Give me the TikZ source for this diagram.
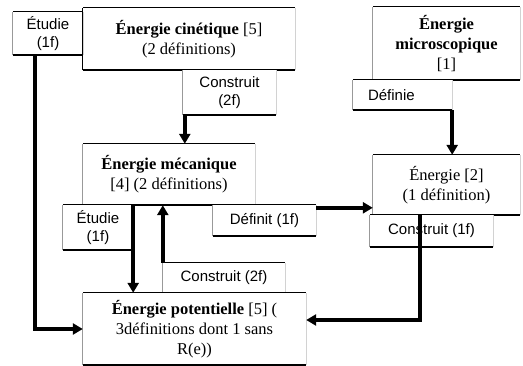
\documentclass[tikz,border=0pt]{standalone}
\usepackage{fontspec}
\setmainfont{Liberation Serif}
\newfontfamily\labelfont{Liberation Sans}
\usetikzlibrary{arrows.meta,calc}
\tikzset{
  card/.style={fill=white, inner sep=0pt, align=center, font=\fontsize{16.5}{20}\selectfont},
  tag/.style={fill=white, inner sep=0pt, align=center, font=\labelfont\fontsize{15}{18}\selectfont},
  topedge/.style={black, line width=1.3pt},
  botedge/.style={black, line width=1.8pt},
  leftedge/.style={gray!80, line width=1.2pt},
  rightedge/.style={gray!35, line width=0.6pt},
  arr/.style={line width=3.5pt, -{Triangle[length=10pt,width=11pt]}}
}
\newcommand\cardedges[1]{%
  \draw[rightedge] (#1.south east) -- (#1.north east);
  \draw[leftedge] (#1.south west) -- (#1.north west);
  \draw[topedge] (#1.north west) -- (#1.north east);
  \draw[botedge] (#1.south west) -- (#1.south east);
}
\begin{document}
\begin{tikzpicture}[x=1pt,y=-1pt]
\useasboundingbox[fill=white] (0,0) rectangle (523,366);
% top-left
\node[card, minimum width=212pt, minimum height=62pt] (cin) at (189,39) {\textbf{Énergie cinétique} [5]\\(2 définitions)};
\cardedges{cin}
\node[tag, minimum width=70pt, minimum height=43pt] (etu1) at (48,33.5) {Étudie\\(1f)};
\cardedges{etu1}
\draw[black, line width=1.3pt] (cin.south west) -- (cin.north west);
\node[tag, minimum width=93pt, minimum height=45pt] (con1) at (229.5,92.5) {Construit\\(2f)};
\cardedges{con1}
% top-right
\node[card, minimum width=147pt, minimum height=73pt] (mic) at (446.5,43.5) {\textbf{Énergie}\\\textbf{microscopique}\\{[1]}};
\cardedges{mic}
\node[tag, minimum width=99pt, minimum height=30pt, text width=69pt, align=left] (def1) at (402.5,95) {Définie};
\cardedges{def1}
% middle
\node[card, minimum width=172pt, minimum height=61pt] (mec) at (169,174.5) {\textbf{Énergie mécanique}\\{[4]} (2 définitions)};
\cardedges{mec}
\node[tag, minimum width=70pt, minimum height=45pt] (etu2) at (98,227.5) {Étudie\\(1f)};
\cardedges{etu2}
\node[tag, minimum width=103pt, minimum height=31pt] (def2) at (264.5,220.5) {Définit (1f)};
\cardedges{def2}
\node[card, minimum width=147pt, minimum height=60pt] (ene) at (446.5,185) {Énergie [2]\\(1 définition)};
\cardedges{ene}
\node[tag, minimum width=123pt, minimum height=32pt] (con3) at (431.5,231) {Construit (1f)};
\cardedges{con3}
% bottom
\node[tag, minimum width=122pt, minimum height=30pt] (con2) at (224,278) {Construit (2f)};
\cardedges{con2}
\node[card, minimum width=223pt, minimum height=72pt] (pot) at (194.5,329) {\textbf{Énergie potentielle} [5] (\\3définitions dont 1 sans\\R(e))};
\cardedges{pot}
% connectors
\draw[arr] ([xshift=22pt]etu1.south west) |- (pot.west);
\draw[arr] ([xshift=2pt]con1.south west) -- ([xshift=2pt]con1.south west |- mec.north);
\draw[arr] (def1.south east) -- (def1.south east |- ene.north);
\draw[arr] (etu2.north east) -- (etu2.north east |- pot.north);
\draw[arr] (con2.north west) -- (con2.north west |- mec.south);
\draw[arr] ([yshift=-3pt]def2.north east) -- ([yshift=-3pt]def2.north east -| ene.west);
\draw[arr] ([xshift=-26.5pt]ene.south) |- ([yshift=9pt]pot.east);
\end{tikzpicture}
\end{document}
